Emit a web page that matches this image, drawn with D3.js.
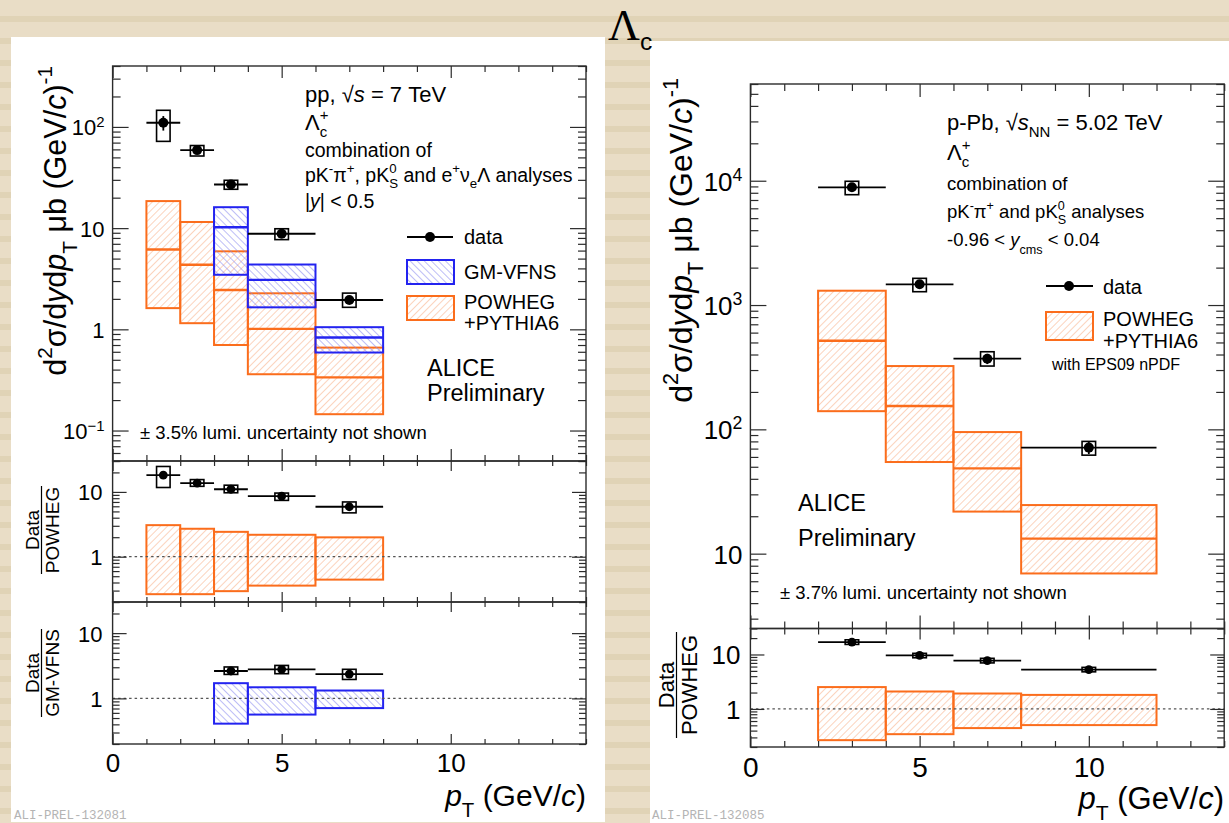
<!DOCTYPE html>
<html><head><meta charset="utf-8">
<script src="https://cdn.jsdelivr.net/npm/d3@7"></script>
<style>
html,body{margin:0;padding:0;background:#e9ddc5;}
svg{display:block;}
</style></head><body>
<svg id="fig" width="1229" height="823"></svg>
<script>
// ---------- pp, sqrt(s) = 7 TeV ----------
const ppBinLow = [1, 2, 3, 4, 6];
const ppBinHigh = [2, 3, 4, 6, 8];
const ppPt = [1.5, 2.5, 3.5, 5, 7];
const ppSigma = [110, 59, 27, 8.8, 1.95];
const ppStat = [18, 5, 2, 0.6, 0.15];
const ppSysHigh = [146, 65.5, 29.7, 9.86, 2.28];
const ppSysLow = [72, 51.6, 24.2, 7.7, 1.65];
const ppPowhegHigh = [18.5, 11.5, 5.9, 2.27, 0.66];
const ppPowhegCentral = [6.15, 4.35, 2.45, 1.01, 0.335];
const ppPowhegLow = [1.62, 1.15, 0.70, 0.36, 0.145];
const gmBinLow = [3, 4, 6];
const gmBinHigh = [4, 6, 8];
const gmPt = [3.5, 5, 7];
const gmHigh = [16.1, 4.37, 1.05];
const gmCentral = [10.2, 3.08, 0.83];
const gmLow = [3.46, 1.65, 0.59];
// Data / POWHEG
const ppRatioPowheg = [18.1, 13.7, 11.0, 8.6, 5.9];
const ppRatioPowhegSysHigh = [24.7, 15.5, 12.7, 9.6, 7.0];
const ppRatioPowhegSysLow = [11.7, 12.2, 9.7, 7.4, 4.75];
const ppPowhegBandHigh = [3.07, 2.7, 2.42, 2.18, 1.99];
const ppPowhegBandLow = [0.264, 0.264, 0.294, 0.358, 0.443];
// Data / GM-VFNS
const ppRatioGm = [2.63, 2.79, 2.36];
const ppRatioGmSysHigh = [3.03, 3.2, 2.79];
const ppRatioGmSysLow = [2.33, 2.39, 1.95];
const gmBandHigh = [1.71, 1.48, 1.32];
const gmBandLow = [0.41, 0.565, 0.71];

// ---------- p-Pb, sqrt(s_NN) = 5.02 TeV ----------
const pPbBinLow = [2, 4, 6, 8];
const pPbBinHigh = [4, 6, 8, 12];
const pPbPt = [3, 5, 7, 10];
const pPbSigma = [8850, 1468, 370, 71.3];
const pPbStat = [600, 110, 35, 8];
const pPbSysHigh = [9900, 1640, 421, 80];
const pPbSysLow = [7720, 1280, 323, 62];
const pPbPowhegHigh = [1304, 323, 95.1, 24.6];
const pPbPowhegCentral = [516, 154, 48.5, 13.2];
const pPbPowhegLow = [140, 54.6, 21.8, 6.93];
const pPbRatio = [16.9, 9.6, 7.74, 5.28];
const pPbRatioSysHigh = [18.6, 10.5, 8.5, 5.8];
const pPbRatioSysLow = [15.3, 8.7, 7.0, 4.8];
const pPbBandHigh = [2.52, 2.09, 1.92, 1.81];
const pPbBandLow = [0.267, 0.344, 0.445, 0.505];

const xMajorTicks = [0, 5, 10];
const xMinorTicks = [1, 2, 3, 4, 6, 7, 8, 9, 11, 12, 13, 14];

const ORANGE = "#fb6d1c", BLUE = "#2323f0", FRAME = "#2b2b2b";
const SANS = "'Liberation Sans', Arial, sans-serif";
const SERIF = "'Liberation Serif', 'Times New Roman', serif";
const MONO = "'Liberation Mono', 'DejaVu Sans Mono', monospace";
const sysHalf = 0.2;

const svg = d3.select("#fig").attr("font-family", SANS);

// page background with horizontal stripes
svg.append("rect").attr("width", 1229).attr("height", 823).attr("fill", "#e9ddc6");
svg.append("g").selectAll("rect").data(d3.range(16, 823, 22)).join("rect")
  .attr("x", 0).attr("y", d => d).attr("width", 1229).attr("height", 6).attr("fill", "#e0d3b6");

// white canvases
svg.append("rect").attr("x", 11).attr("y", 37).attr("width", 594).attr("height", 785).attr("fill", "#fff");
svg.append("rect").attr("x", 650).attr("y", 41).attr("width", 579).attr("height", 782).attr("fill", "#fff");

// hatch patterns
const defs = svg.append("defs");
function hatch(id, color, angle) {
  const p = defs.append("pattern").attr("id", id).attr("patternUnits", "userSpaceOnUse")
    .attr("width", 5).attr("height", 5).attr("patternTransform", `rotate(${angle})`);
  p.append("line").attr("x1", 0).attr("y1", -1).attr("x2", 0).attr("y2", 6)
    .attr("stroke", color).attr("stroke-width", 1.1);
}
hatch("hatchOrange", "#f8ae85", 45);
hatch("hatchBlue", "#8585ee", -45);

// ---------- text with sub/superscripts ----------
function rich(parent, x, y, parts, size, opt = {}) {
  const g = parent.append("g")
    .attr("transform", `translate(${x},${y})` + (opt.rotate ? ` rotate(${opt.rotate})` : ""));
  let cx = 0;
  const place = (str, dy, fs, it, fam) => {
    const t = g.append("text").attr("x", cx).attr("y", dy).attr("font-size", fs)
      .attr("font-family", fam || SANS).attr("fill", opt.fill || "#000")
      .attr("font-style", it ? "italic" : null).text(str.replace(/ /g, "\u00a0"));
    return t.node().getComputedTextLength();
  };
  for (const p of parts) {
    if (p.t != null) cx += place(p.t, 0, size * (p.scale || 1), p.it, p.fam);
    else {
      let w = 0;
      if (p.sup != null) w = Math.max(w, place(p.sup, -size * 0.45, size * 0.68, p.supIt));
      if (p.sub != null) w = Math.max(w, place(p.sub, size * (p.subDy || 0.3), size * (p.subScale || 0.68), p.subIt));
      cx += w;
    }
  }
  const shift = opt.anchor === "end" ? -cx : opt.anchor === "middle" ? -cx / 2 : 0;
  if (shift) g.selectAll("text").attr("x", function () { return +this.getAttribute("x") + shift; });
  return cx;
}

// ---------- axes and frames ----------
function logTicks(domain) {
  const [lo, hi] = domain, major = [], minor = [];
  for (let e = Math.floor(Math.log10(lo)); e <= Math.ceil(Math.log10(hi)); e++) {
    for (let k = 1; k <= 9; k++) {
      const v = k * Math.pow(10, e);
      if (v < lo * 0.999 || v > hi * 1.001) continue;
      (k === 1 ? major : minor).push(v);
    }
  }
  return { major, minor };
}

function powLabel(d) {
  const e = Math.round(Math.log10(d));
  if (e === 0) return ["1", null];
  if (e === 1) return ["10", null];
  return ["10", e < 0 ? "\u2212" + (-e) : String(e)];
}

function styleAxis(g, fs) {
  g.select(".domain").remove();
  g.selectAll(".tick line").attr("stroke", FRAME).attr("stroke-width", 1.2);
  g.attr("font-family", SANS).attr("font-size", fs);
  g.selectAll(".tick text").attr("fill", "#000");
}

function frame(g, x, y, o) {
  const [x0, x1] = x.range(), [yb, yt] = y.range();
  const lt = logTicks(y.domain());
  // left axis (labels) + minor
  const left = g.append("g").attr("transform", `translate(${x0},0)`)
    .call(d3.axisLeft(y).tickValues(lt.major).tickSize(-o.yMaj).tickPadding(o.yPad).tickFormat(""));
  styleAxis(left, o.yFont);
  left.selectAll(".tick").each(function (d) {
    const [base, sup] = powLabel(d);
    const t = d3.select(this).append("text").attr("x", -o.yPad).attr("dy", "0.36em")
      .attr("text-anchor", "end").attr("fill", "#000").text(base);
    if (sup) t.append("tspan").attr("dy", "-0.55em").attr("font-size", "0.68em").text(sup);
  });
  g.append("g").attr("transform", `translate(${x0},0)`)
    .call(d3.axisLeft(y).tickValues(lt.minor).tickSize(-o.yMin).tickFormat(""))
    .call(s => styleAxis(s, o.yFont));
  // right axis
  g.append("g").attr("transform", `translate(${x1},0)`)
    .call(d3.axisRight(y).tickValues(lt.major).tickSize(-o.yMaj).tickFormat(""))
    .call(s => styleAxis(s, o.yFont));
  g.append("g").attr("transform", `translate(${x1},0)`)
    .call(d3.axisRight(y).tickValues(lt.minor).tickSize(-o.yMin).tickFormat(""))
    .call(s => styleAxis(s, o.yFont));
  // top and bottom
  for (const [yy, gen] of [[yt, d3.axisTop], [yb, d3.axisBottom]]) {
    g.append("g").attr("transform", `translate(0,${yy})`)
      .call(gen(x).tickValues(xMajorTicks).tickSize(-o.xMaj).tickFormat(""))
      .call(s => styleAxis(s, o.xFont));
    g.append("g").attr("transform", `translate(0,${yy})`)
      .call(gen(x).tickValues(xMinorTicks).tickSize(-o.xMin).tickFormat(""))
      .call(s => styleAxis(s, o.xFont));
  }
  if (o.xLabels) {
    g.append("g").attr("transform", `translate(0,${yb})`)
      .call(d3.axisBottom(x).tickValues(xMajorTicks).tickSize(0).tickPadding(o.xPad).tickFormat(d3.format("d")))
      .call(s => styleAxis(s, o.xFont));
  }
  g.append("rect").attr("x", x0).attr("y", yt).attr("width", x1 - x0).attr("height", yb - yt)
    .attr("fill", "none").attr("stroke", FRAME).attr("stroke-width", 1.4);
}

// ---------- marks ----------
function bands(g, x, y, lo, hi, low, high, central, color, pat) {
  lo.forEach((b, i) => {
    g.append("rect").attr("x", x(b)).attr("y", y(high[i]))
      .attr("width", x(hi[i]) - x(b)).attr("height", y(low[i]) - y(high[i]))
      .attr("fill", `url(#${pat})`).attr("stroke", color).attr("stroke-width", 2);
    if (central) g.append("line").attr("x1", x(b)).attr("x2", x(hi[i]))
      .attr("y1", y(central[i])).attr("y2", y(central[i]))
      .attr("stroke", color).attr("stroke-width", 2.4);
  });
}

function points(g, x, y, pt, val, lo, hi, sysLo, sysHi, stat, r) {
  pt.forEach((p, i) => {
    g.append("line").attr("x1", x(lo[i])).attr("x2", x(hi[i]))
      .attr("y1", y(val[i])).attr("y2", y(val[i])).attr("stroke", "#000").attr("stroke-width", 1.8);
    if (stat) g.append("line").attr("x1", x(p)).attr("x2", x(p))
      .attr("y1", y(val[i] + stat[i])).attr("y2", y(val[i] - stat[i]))
      .attr("stroke", "#000").attr("stroke-width", 1.8);
    g.append("rect").attr("x", x(p - sysHalf)).attr("y", y(sysHi[i]))
      .attr("width", x(p + sysHalf) - x(p - sysHalf)).attr("height", y(sysLo[i]) - y(sysHi[i]))
      .attr("fill", "none").attr("stroke", "#000").attr("stroke-width", 1.6);
    g.append("circle").attr("cx", x(p)).attr("cy", y(val[i])).attr("r", r).attr("fill", "#000");
  });
}

function unityLine(g, x, y) {
  g.append("line").attr("x1", x.range()[0]).attr("x2", x.range()[1])
    .attr("y1", y(1)).attr("y2", y(1)).attr("stroke", "#555")
    .attr("stroke-width", 1.3).attr("stroke-dasharray", "2.5,3");
}

// ================= left: pp =================
const xL = d3.scaleLinear().domain([0, 14]).range([112.6, 586]);
const yL = d3.scaleLog().domain([0.05, 400]).range([461, 66]);
const yL1 = d3.scaleLog().domain([0.2, 30]).range([602, 461]);
const yL2 = d3.scaleLog().domain([0.2, 30]).range([744, 602]);

const gL = svg.append("g");
bands(gL, xL, yL, ppBinLow, ppBinHigh, ppPowhegLow, ppPowhegHigh, ppPowhegCentral, ORANGE, "hatchOrange");
bands(gL, xL, yL, gmBinLow, gmBinHigh, gmLow, gmHigh, gmCentral, BLUE, "hatchBlue");
points(gL, xL, yL, ppPt, ppSigma, ppBinLow, ppBinHigh, ppSysLow, ppSysHigh, ppStat, 5);
frame(gL, xL, yL, { yMaj: 16, yMin: 8, xMaj: 12, xMin: 6, yPad: 8, yFont: 22, xFont: 26 });

bands(gL, xL, yL1, ppBinLow, ppBinHigh, ppPowhegBandLow, ppPowhegBandHigh, null, ORANGE, "hatchOrange");
unityLine(gL, xL, yL1);
points(gL, xL, yL1, ppPt, ppRatioPowheg, ppBinLow, ppBinHigh, ppRatioPowhegSysLow, ppRatioPowhegSysHigh, null, 4.4);
frame(gL, xL, yL1, { yMaj: 14, yMin: 7, xMaj: 10, xMin: 5, yPad: 10, yFont: 22, xFont: 26 });

bands(gL, xL, yL2, gmBinLow, gmBinHigh, gmBandLow, gmBandHigh, null, BLUE, "hatchBlue");
unityLine(gL, xL, yL2);
points(gL, xL, yL2, gmPt, ppRatioGm, gmBinLow, gmBinHigh, ppRatioGmSysLow, ppRatioGmSysHigh, null, 4.4);
frame(gL, xL, yL2, { yMaj: 14, yMin: 7, xMaj: 10, xMin: 5, yPad: 10, yFont: 22, xFont: 26, xLabels: true, xPad: 10 });

// axis titles
rich(gL, 66, 66, [{ t: "d" }, { sup: "2" }, { t: "\u03c3/d" }, { t: "y", it: true }, { t: "d" }, { t: "p", it: true },
  { sub: "T", subDy: 0.35 }, { t: " \u03bcb (GeV/" }, { t: "c", it: true }, { t: ")" }, { sup: "-1" }], 30.5, { rotate: -90, anchor: "end" });
rich(gL, 586, 806, [{ t: "p", it: true }, { sub: "T", subDy: 0.35 }, { t: " (GeV/" }, { t: "c", it: true }, { t: ")" }], 30, { anchor: "end" });

function fraction(g, xNum, xLine, xDen, yc, num, den, fs, len) {
  rich(g, xNum, yc, [{ t: num }], fs, { rotate: -90, anchor: "middle" });
  rich(g, xDen, yc, [{ t: den }], fs, { rotate: -90, anchor: "middle" });
  g.append("line").attr("x1", xLine).attr("x2", xLine).attr("y1", yc - len / 2).attr("y2", yc + len / 2)
    .attr("stroke", "#000").attr("stroke-width", 1.2);
}
fraction(gL, 39, 41.5, 59, 530, "Data", "POWHEG", 19, 88);
fraction(gL, 39, 41.5, 59, 673, "Data", "GM-VFNS", 19, 88);

// annotations
rich(gL, 305, 102, [{ t: "pp, \u221a" }, { t: "s", it: true }, { t: " = 7 TeV" }], 22);
rich(gL, 305, 130, [{ t: "\u039b" }, { sup: "+", sub: "c" }], 22);
rich(gL, 305, 157, [{ t: "combination of" }], 19.5);
rich(gL, 305, 182, [{ t: "pK" }, { sup: "-" }, { t: "\u03c0" }, { sup: "+" }, { t: ", pK" }, { sup: "0", sub: "S" },
  { t: " and e" }, { sup: "+" }, { t: "\u03bd" }, { sub: "e" }, { t: "\u039b analyses" }], 19.5);
rich(gL, 305, 208, [{ t: "|" }, { t: "y", it: true }, { t: "| < 0.5" }], 19.5);

// legend
gL.append("line").attr("x1", 407).attr("x2", 453).attr("y1", 237).attr("y2", 237).attr("stroke", "#000").attr("stroke-width", 1.8);
gL.append("circle").attr("cx", 430).attr("cy", 237).attr("r", 5).attr("fill", "#000");
rich(gL, 464, 244, [{ t: "data" }], 20);
gL.append("rect").attr("x", 407).attr("y", 260).attr("width", 47).attr("height", 24)
  .attr("fill", "url(#hatchBlue)").attr("stroke", BLUE).attr("stroke-width", 2);
rich(gL, 464, 279, [{ t: "GM-VFNS" }], 20);
gL.append("rect").attr("x", 407).attr("y", 296).attr("width", 47).attr("height", 24)
  .attr("fill", "url(#hatchOrange)").attr("stroke", ORANGE).attr("stroke-width", 2);
rich(gL, 464, 309, [{ t: "POWHEG" }], 20);
rich(gL, 464, 330, [{ t: "+PYTHIA6" }], 20);

rich(gL, 427, 376, [{ t: "ALICE" }], 23.5);
rich(gL, 427, 401, [{ t: "Preliminary" }], 23.5);
rich(gL, 140, 439, [{ t: "\u00b1 3.5% lumi. uncertainty not shown" }], 18.5);
rich(gL, 14, 819, [{ t: "ALI-PREL-132081", fam: MONO }], 12.5, { fill: "#b4b4b4" });

// ================= right: p-Pb =================
const xR = d3.scaleLinear().domain([0, 14]).range([750.4, 1224.2]);
const yR = d3.scaleLog().domain([2.5, 6e4]).range([628.5, 84]);
const yR1 = d3.scaleLog().domain([0.2, 30]).range([747, 628.5]);

const gR = svg.append("g");
bands(gR, xR, yR, pPbBinLow, pPbBinHigh, pPbPowhegLow, pPbPowhegHigh, pPbPowhegCentral, ORANGE, "hatchOrange");
points(gR, xR, yR, pPbPt, pPbSigma, pPbBinLow, pPbBinHigh, pPbSysLow, pPbSysHigh, pPbStat, 5);
frame(gR, xR, yR, { yMaj: 16, yMin: 8, xMaj: 13, xMin: 7, yPad: 8, yFont: 26, xFont: 28 });

bands(gR, xR, yR1, pPbBinLow, pPbBinHigh, pPbBandLow, pPbBandHigh, null, ORANGE, "hatchOrange");
unityLine(gR, xR, yR1);
points(gR, xR, yR1, pPbPt, pPbRatio, pPbBinLow, pPbBinHigh, pPbRatioSysLow, pPbRatioSysHigh, null, 4.4);
frame(gR, xR, yR1, { yMaj: 14, yMin: 7, xMaj: 11, xMin: 6, yPad: 10, yFont: 26, xFont: 28, xLabels: true, xPad: 10 });

rich(gR, 692, 78, [{ t: "d" }, { sup: "2" }, { t: "\u03c3/d" }, { t: "y", it: true }, { t: "d" }, { t: "p", it: true },
  { sub: "T", subDy: 0.35 }, { t: " \u03bcb (GeV/" }, { t: "c", it: true }, { t: ")" }, { sup: "-1" }], 32, { rotate: -90, anchor: "end" });
rich(gR, 1224, 809, [{ t: "p", it: true }, { sub: "T", subDy: 0.35 }, { t: " (GeV/" }, { t: "c", it: true }, { t: ")" }], 31, { anchor: "end" });
fraction(gR, 674, 676.5, 697, 685, "Data", "POWHEG", 22, 106);

rich(gR, 947, 130, [{ t: "p-Pb, \u221a" }, { t: "s", it: true }, { sub: "NN" }, { t: " = 5.02 TeV" }], 22);
rich(gR, 947, 160, [{ t: "\u039b" }, { sup: "+", sub: "c" }], 22);
rich(gR, 947, 190, [{ t: "combination of" }], 18.5);
rich(gR, 947, 218, [{ t: "pK" }, { sup: "-" }, { t: "\u03c0" }, { sup: "+" }, { t: " and pK" }, { sup: "0", sub: "S" }, { t: " analyses" }], 18.5);
rich(gR, 947, 246, [{ t: "-0.96 < " }, { t: "y", it: true }, { sub: "cms", subDy: 0.45 }, { t: " < 0.04" }], 18.5);

gR.append("line").attr("x1", 1046).attr("x2", 1093).attr("y1", 286).attr("y2", 286).attr("stroke", "#000").attr("stroke-width", 1.8);
gR.append("circle").attr("cx", 1069).attr("cy", 286).attr("r", 5).attr("fill", "#000");
rich(gR, 1103, 294, [{ t: "data" }], 20);
gR.append("rect").attr("x", 1046).attr("y", 312).attr("width", 47).attr("height", 28)
  .attr("fill", "url(#hatchOrange)").attr("stroke", ORANGE).attr("stroke-width", 2);
rich(gR, 1103, 326, [{ t: "POWHEG" }], 20);
rich(gR, 1103, 348, [{ t: "+PYTHIA6" }], 20);
rich(gR, 1052, 370, [{ t: "with EPS09 nPDF" }], 16);

rich(gR, 798, 511, [{ t: "ALICE" }], 23.5);
rich(gR, 798, 546, [{ t: "Preliminary" }], 23.5);
rich(gR, 780, 599, [{ t: "\u00b1 3.7% lumi. uncertainty not shown" }], 18.5);
rich(gR, 652, 819, [{ t: "ALI-PREL-132085", fam: MONO }], 12.5, { fill: "#b4b4b4" });

// slide heading: Lambda_c
rich(svg, 608, 40, [{ t: "\u039b", fam: SERIF }, { sub: "c", subDy: 0.22, subScale: 0.56 }], 44);
</script>
</body></html>
